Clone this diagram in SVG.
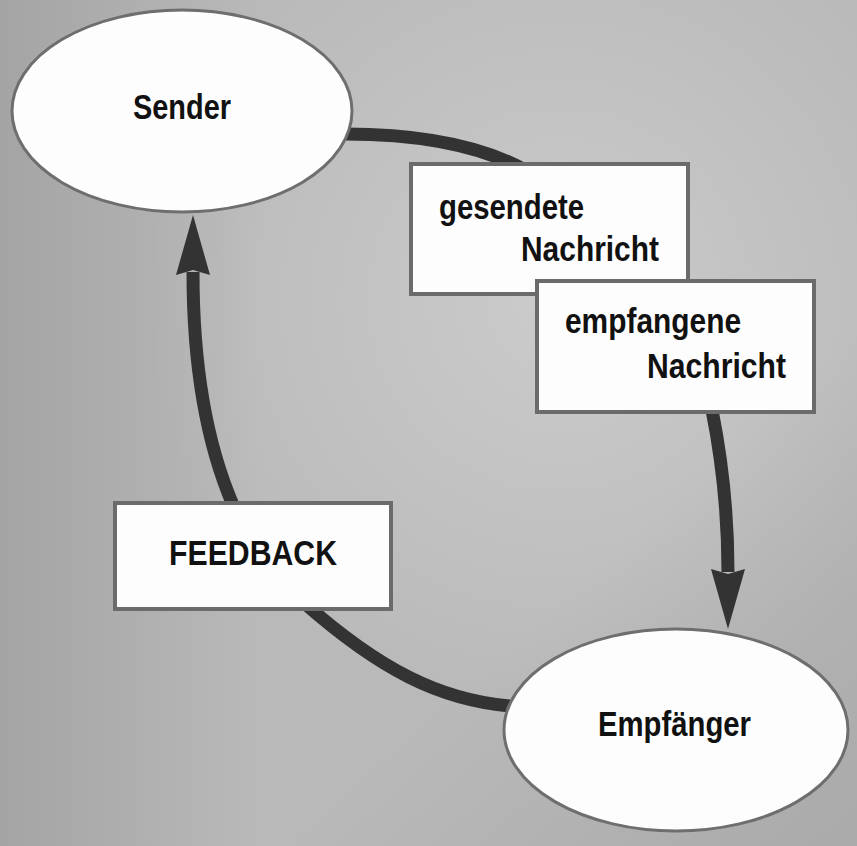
<svg xmlns="http://www.w3.org/2000/svg" width="857" height="846" viewBox="0 0 857 846">
  <defs>
    <radialGradient id="lightA" cx="560" cy="300" r="420" gradientUnits="userSpaceOnUse">
      <stop offset="0" stop-color="#cbcbcb" stop-opacity="1"/>
      <stop offset="1" stop-color="#cbcbcb" stop-opacity="0"/>
    </radialGradient>
    <linearGradient id="darkL" x1="0" y1="0" x2="260" y2="0" gradientUnits="userSpaceOnUse">
      <stop offset="0" stop-color="#a2a2a2" stop-opacity="0.9"/>
      <stop offset="1" stop-color="#a2a2a2" stop-opacity="0"/>
    </linearGradient>
    <linearGradient id="darkBR" x1="857" y1="846" x2="600" y2="560" gradientUnits="userSpaceOnUse">
      <stop offset="0" stop-color="#a6a6a6" stop-opacity="0.8"/>
      <stop offset="1" stop-color="#a6a6a6" stop-opacity="0"/>
    </linearGradient>
    <marker id="arrow" markerUnits="userSpaceOnUse" markerWidth="64" markerHeight="40" viewBox="0 0 64 40" refX="3" refY="20" orient="auto">
      <path d="M0,3 L60,20 L0,37 L5,20 Z" fill="#333333"/>
    </marker>
    <style>
      .conn { fill: none; stroke: #333333; stroke-width: 13; }
      .ell { fill: #fdfdfd; stroke: #6e6e6e; stroke-width: 3; }
      .box { fill: #fdfdfd; stroke: #6b6b6b; stroke-width: 4; }
      .lbl { font-family: "Liberation Sans", Arial, sans-serif; font-weight: bold; font-size: 35px; fill: #111111; }
    </style>
  </defs>

  <rect x="0" y="0" width="857" height="846" fill="#b9b9b9"/>
  <rect x="0" y="0" width="857" height="846" fill="url(#lightA)"/>
  <rect x="0" y="0" width="857" height="846" fill="url(#darkL)"/>
  <rect x="0" y="0" width="857" height="846" fill="url(#darkBR)"/>

  <g id="connectors">
    <path class="conn" d="M345,134 C400,134 470,140 525,170"/>
    <path class="conn" d="M712,410 C722,460 728,510 728,572" marker-end="url(#arrow)"/>
    <path class="conn" d="M510,706 C440,700 380,670 303,602"/>
    <path class="conn" d="M233,505 C205,440 193,360 193,272" marker-end="url(#arrow)"/>
  </g>

  <g id="sender">
    <ellipse class="ell" cx="182" cy="111" rx="170" ry="101"/>
    <text class="lbl" x="133" y="119" textLength="98" lengthAdjust="spacingAndGlyphs">Sender</text>
  </g>

  <g id="gesendete-nachricht">
    <rect class="box" x="411" y="164" width="277" height="130"/>
    <text class="lbl" x="439" y="219" textLength="145" lengthAdjust="spacingAndGlyphs">gesendete</text>
    <text class="lbl" x="521" y="261" textLength="138" lengthAdjust="spacingAndGlyphs">Nachricht</text>
  </g>

  <g id="empfangene-nachricht">
    <rect class="box" x="537" y="281" width="277" height="131"/>
    <text class="lbl" x="565" y="333" textLength="176" lengthAdjust="spacingAndGlyphs">empfangene</text>
    <text class="lbl" x="647" y="378" textLength="139" lengthAdjust="spacingAndGlyphs">Nachricht</text>
  </g>

  <g id="feedback">
    <rect class="box" x="115" y="503" width="276" height="106"/>
    <text class="lbl" x="169" y="565" textLength="168" lengthAdjust="spacingAndGlyphs">FEEDBACK</text>
  </g>

  <g id="empfaenger">
    <ellipse class="ell" cx="676" cy="730" rx="172" ry="101"/>
    <text class="lbl" x="598" y="736" textLength="153" lengthAdjust="spacingAndGlyphs">Empfänger</text>
  </g>
</svg>
